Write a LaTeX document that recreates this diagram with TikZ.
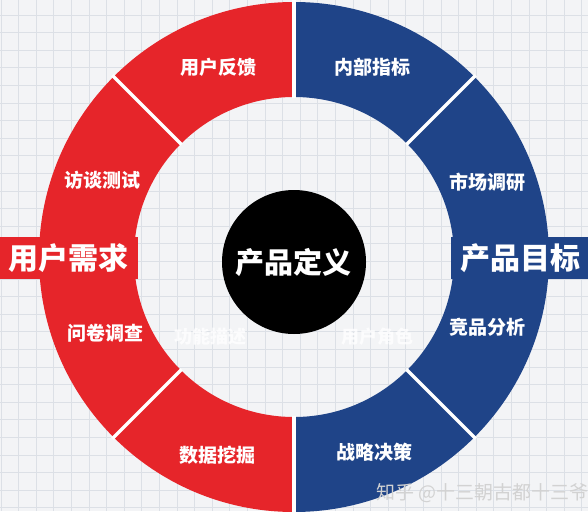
\documentclass[tikz,border=0pt]{standalone}
\usepackage{fontspec}
\newfontfamily\cjk{Noto Sans CJK SC}
\usetikzlibrary{calc}
\definecolor{ringred}{HTML}{E6252A}
\definecolor{ringblue}{HTML}{1F4488}
\definecolor{bgpaper}{HTML}{F3F4F6}
\definecolor{gridc}{HTML}{DCE0E6}
\tikzset{
  seglabel/.style={text=white, font=\cjk\bfseries\fontsize{19}{19}\selectfont, inner sep=0pt},
  sidebox/.style={minimum width=138pt, minimum height=42pt, inner sep=0pt, text=white, font=\cjk\bfseries\fontsize{30}{30}\selectfont},
  divider/.style={white, line width=3.5pt},
  ghost/.style={text=white, opacity=0.8, font=\cjk\bfseries\fontsize{18}{18}\selectfont, inner sep=0pt},
}
\begin{document}
\begin{tikzpicture}[x=1pt,y=-1pt]
\useasboundingbox (0,0) rectangle (588,511);
\clip (0,0) rectangle (588,511);
\fill[bgpaper] (0,0) rectangle (588,511);
\foreach \i in {0,...,33} {
  \draw[gridc, line width=0.7pt] (\i*17.6+1,0) -- (\i*17.6+1,511);
}
\foreach \j in {0,...,29} {
  \draw[gridc, line width=0.7pt] (0,\j*17.6+15) -- (588,\j*17.6+15);
}
\coordinate (c) at (294,257);
% red half
\fill[ringred] ($(c)+(90:255)$) arc[start angle=90, end angle=270, radius=255]
  -- ($(c)+(270:160)$) arc[start angle=270, end angle=90, radius=160] -- cycle;
% blue half
\fill[ringblue] ($(c)+(90:255)$) arc[start angle=90, end angle=-90, radius=255]
  -- ($(c)+(-90:160)$) arc[start angle=-90, end angle=90, radius=160] -- cycle;
% gaps and dividers
\foreach \a/\n in {90/g1,270/g2,45/d1,135/d2,225/d3,315/d4} {
  \coordinate (\n i) at ($(c)+(\a:159)$);
  \coordinate (\n o) at ($(c)+(\a:257)$);
  \draw[divider] (\n i) -- (\n o);
}
% center circle
\node[circle, fill=black, minimum size=144pt, inner sep=0pt] (core) at (294,262) {};
\node[text=white, font=\cjk\bfseries\fontsize{29}{29}\selectfont, inner sep=0pt] (coret) at (293,263) {产品定义};
% side boxes
\node[sidebox, fill=ringred] (need) at (68.5,258) {用户需求};
\node[sidebox, fill=ringblue] (goal) at (520,258) {产品目标};
% segment labels
\node[seglabel] (l1) at (218,67) {用户反馈};
\node[seglabel] (l2) at (102,180) {访谈测试};
\node[seglabel] (l3) at (105,333) {问卷调查};
\node[seglabel] (l4) at (217,455) {数据挖掘};
\node[seglabel] (r1) at (372,67) {内部指标};
\node[seglabel] (r2) at (487,182) {市场调研};
\node[seglabel] (r3) at (487,327) {竞品分析};
\node[seglabel] (r4) at (374,452) {战略决策};
% faint texts
\node[ghost] (gh1) at (210,337) {功能描述};
\node[ghost] (gh2) at (377,337) {用户角色};
\node[text=gray!35, font=\cjk\fontsize{19}{19}\selectfont, inner sep=0pt, anchor=west] (wm) at (376,493) {知乎 @十三朝古都十三爷};
\end{tikzpicture}
\end{document}
